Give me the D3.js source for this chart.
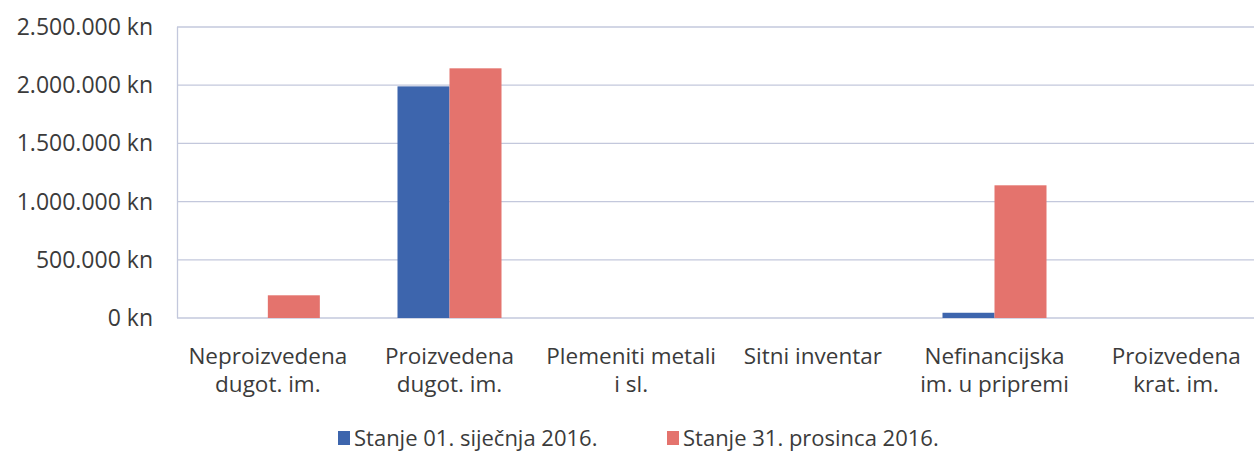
<!DOCTYPE html>
<html>
<head>
<meta charset="utf-8">
<script src="https://cdn.jsdelivr.net/npm/d3@7"></script>
<style>
  body { margin: 0; background: #fff; }
  text { font-family: "Open Sans", sans-serif; fill: #3b3b3b; }
</style>
</head>
<body>
<svg id="chart" width="1254" height="455"></svg>
<script>
// Imovina - stanje na pocetku i kraju 2016.

const categories = [
  ['Neproizvedena', 'dugot. im.'],
  ['Proizvedena', 'dugot. im.'],
  ['Plemeniti metali', 'i sl.'],
  ['Sitni inventar'],
  ['Nefinancijska', 'im. u pripremi'],
  ['Proizvedena', 'krat. im.']
];
const seriesNames = ['Stanje 01. siječnja 2016.', 'Stanje 31. prosinca 2016.'];
const start2016 = [0, 1990000, 0, 0, 45000, 0];
const end2016 = [195000, 2145000, 0, 0, 1140000, 0];
const yTicks = [0, 500000, 1000000, 1500000, 2000000, 2500000];
const colors = ['#3d65ad', '#e4736d'];

const svg = d3.select('#chart');

const x0 = d3.scaleBand()
  .domain(d3.range(categories.length))
  .range([177, 1267]);

const x1 = d3.scaleBand()
  .domain([0, 1])
  .range([0, 104]);

const y = d3.scaleLinear()
  .domain([0, 2500000])
  .range([318, 27]);

const fmt = v => d3.format(',')(v).replace(/,/g, '.') + ' kn';

// grid
svg.append('g')
  .selectAll('line')
  .data(yTicks)
  .enter()
  .append('line')
    .attr('x1', 177)
    .attr('x2', 1267)
    .attr('y1', d => y(d))
    .attr('y2', d => y(d))
    .attr('stroke', '#c3c8dc')
    .attr('stroke-width', 1.3);

svg.append('line')
  .attr('x1', 177.5).attr('x2', 177.5)
  .attr('y1', y(2500000)).attr('y2', y(0))
  .attr('stroke', '#c3c8dc')
  .attr('stroke-width', 1.3);

// y axis labels
svg.append('g')
  .selectAll('text')
  .data(yTicks)
  .enter()
  .append('text')
    .attr('x', 153)
    .attr('y', d => y(d))
    .attr('dy', '0.35em')
    .attr('text-anchor', 'end')
    .attr('font-size', 23)
    .text(fmt);

// bars
const rows = categories.map((c, i) => [start2016[i], end2016[i]]);

const groups = svg.append('g')
  .selectAll('g')
  .data(rows)
  .enter()
  .append('g')
    .attr('transform', (d, i) => `translate(${x0(i) + x0.bandwidth() / 2 - 52},0)`);

groups.selectAll('rect')
  .data(d => d)
  .enter()
  .append('rect')
    .attr('x', (d, j) => x1(j))
    .attr('width', x1.bandwidth())
    .attr('y', d => y(d))
    .attr('height', d => y(0) - y(d))
    .attr('fill', (d, j) => colors[j]);

// category labels
svg.append('g')
  .selectAll('text')
  .data(categories)
  .enter()
  .append('text')
    .attr('x', (d, i) => x0(i) + x0.bandwidth() / 2)
    .attr('y', 364)
    .attr('text-anchor', 'middle')
    .attr('font-size', 22.5)
  .selectAll('tspan')
  .data(d => d)
  .enter()
  .append('tspan')
    .attr('x', function () { return this.parentNode.getAttribute('x'); })
    .attr('dy', (d, k) => k === 0 ? 0 : 28)
    .text(d => d);

// legend
const legendX = [338, 667];
const legend = svg.append('g')
  .selectAll('g')
  .data(seriesNames)
  .enter()
  .append('g')
    .attr('transform', (d, i) => `translate(${legendX[i]},438)`);

legend.append('rect')
  .attr('x', 0)
  .attr('y', -7)
  .attr('width', 12)
  .attr('height', 14)
  .attr('fill', (d, i) => colors[i]);

legend.append('text')
  .attr('x', 16)
  .attr('dy', '0.35em')
  .attr('font-size', 22)
  .text(d => d);
</script>
</body>
</html>
